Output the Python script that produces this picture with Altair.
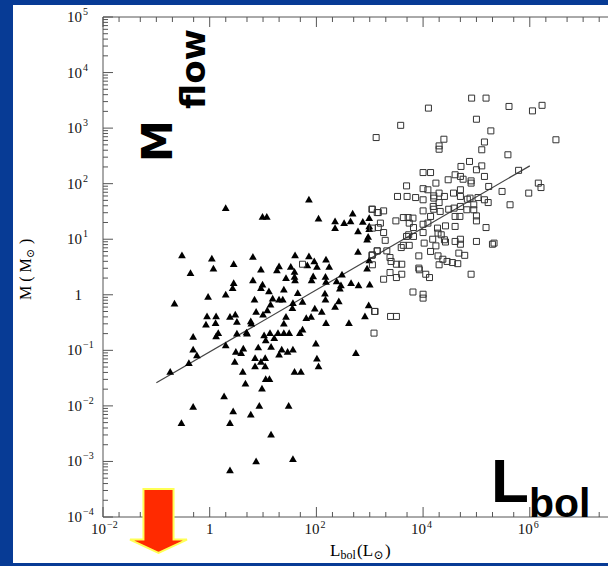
import altair as alt
import pandas as pd

# ---------------- data (log10 values) ----------------
tri_logL = [0.30, 1.86, 0.99, 1.07, 2.04, 2.35, 2.35, 2.52, 2.64, 2.68, 2.87, 2.78, 2.99, 2.99, 2.99, 2.97, 2.95,
            -0.52, 0.04, -0.36, 0.07, 0.45, 0.81, 0.96, 1.60, 1.86, 1.30, 1.26, 1.52, 1.83, 1.96, 2.18, 2.24, 2.01,
            1.59, 1.59, 1.60, 1.43, 1.94, 1.91, 2.17, 2.18, 2.48, 2.38, 2.46, 2.44, 2.65, 2.79, 3.00, 2.78, 2.99, 2.95,
            0.45, 0.43, 0.81, 0.99, 0.96, 1.11, 1.39, 1.65, 0.30, -0.03, -0.66, 0.84, 1.18, 1.30, 1.37, 1.56, 1.55,
            1.74, 2.17, 2.16, 2.42, 2.35, 1.97, 2.10, 1.08, 1.00, 0.87, 1.14, 2.98, 2.91, -0.05, 0.12, 0.38, 0.48,
            1.43, 1.81, 1.90, -0.07, 0.11, 0.51, 0.77, 0.78, 1.39, 2.18, 2.61, -0.31, 0.16, 0.12, 0.51, 0.69, 0.70,
            0.30, -0.31, -0.39, -0.24, -0.74, 0.49, 0.63, 0.59, 0.47, 0.91, 1.02, 1.13, 1.05, 1.21, 1.28, 1.39, 1.49,
            1.15, 1.35, 1.30, 1.46, 1.56, 1.69, 1.74, 1.99, 0.85, 0.96, 1.04, 0.85, 1.04, 0.62, 0.67, 1.05, 1.12,
            0.98, 1.59, 1.71, 2.01, 2.04, 2.74, 0.27, -0.31, -0.53, 0.44, 0.38, 0.77, 0.93, 1.48, 1.15, 0.87, 1.56, 0.38]
tri_logM = [1.57, 1.72, 1.41, 1.41, 1.38, 1.33, 1.21, 1.30, 1.33, 1.47, 1.32, 1.15, 1.39, 1.24, 1.19, 1.05, 1.00,
            0.72, 0.66, 0.40, 0.48, 0.56, 0.69, 0.46, 0.72, 0.70, 0.52, 0.45, 0.51, 0.54, 0.61, 0.64, 0.51, 0.51,
            0.42, 0.33, 0.27, 0.31, 0.34, 0.27, 0.33, 0.24, 0.37, 0.25, 0.18, 0.12, 0.22, 0.18, 0.19, 0.78, 0.63, 0.48,
            0.22, 0.13, 0.27, 0.19, 0.13, 0.07, 0.10, 0.04, 0.01, -0.03, -0.15, -0.08, -0.06, -0.08, -0.08, -0.14, -0.23,
            -0.12, -0.08, 0.03, -0.11, -0.21, -0.24, -0.30, -0.27, -0.35, -0.30, -0.17, -0.18, -0.38, -0.38, -0.38, -0.39, -0.35,
            -0.39, -0.41, -0.39, -0.53, -0.50, -0.48, -0.47, -0.51, -0.51, -0.50, -0.50, -0.75, -0.68, -0.74, -0.69, -0.67, -0.69,
            -0.90, -0.98, -1.22, -1.08, -1.38, -1.02, -0.96, -1.04, -1.20, -0.94, -0.72, -0.68, -0.81, -0.77, -0.68, -0.68, -0.68,
            -0.93, -0.98, -1.07, -1.02, -0.98, -0.68, -0.62, -0.87, -1.13, -1.20, -1.13, -1.28, -1.28, -1.38, -1.59, -1.51, -1.51,
            -1.68, -1.38, -1.38, -1.14, -1.28, -1.04, -1.82, -2.01, -2.30, -2.09, -2.30, -2.15, -1.99, -1.99, -2.51, -2.99, -2.95, -3.15]

sq_logL = [4.91, 5.18, 4.10, 5.61, 6.05, 6.23, 3.58, 5.00, 3.12, 5.27, 4.39, 4.30, 4.30, 5.15, 5.10, 6.49, 5.59,
           4.87, 4.71, 5.10, 5.00, 4.00, 4.14, 5.15, 4.47, 4.60, 4.70, 4.75, 4.90, 4.90, 4.24, 3.69, 4.00, 4.09,
           5.79, 5.23, 4.70, 5.48, 6.16, 6.21, 5.98, 3.52, 3.70, 3.86, 4.00, 4.20, 4.30, 4.40, 4.20, 4.57, 4.70,
           4.83, 4.88, 5.03, 5.15, 5.22, 4.95, 5.63, 3.04, 3.16, 3.26, 4.00, 4.19, 4.20, 4.30, 4.48, 4.58, 4.70,
           4.82, 4.95, 5.00, 5.00, 3.63, 3.72, 3.81, 3.49, 4.14, 4.32, 4.60, 4.69, 3.20, 3.74, 4.00, 4.09, 4.27,
           4.42, 4.60, 5.18, 3.16, 3.26, 3.82, 3.73, 3.69, 3.82, 3.29, 4.00, 4.28, 4.34, 4.40, 4.42, 4.18, 3.63,
           3.59, 3.74, 4.02, 4.24, 4.60, 4.70, 4.70, 5.00, 5.30, 5.33, 3.14, 3.32, 3.92, 4.14, 4.28, 4.37, 4.45,
           4.55, 4.65, 4.67, 4.78, 3.04, 3.38, 3.40, 3.50, 3.60, 4.30, 4.90, 3.92, 3.93, 4.05, 4.12, 3.26, 3.50,
           3.38, 3.60, 3.81, 4.00, 4.00, 3.09, 3.39, 3.50, 1.74, 3.05, 3.14, 3.05, 3.05, 3.14, 3.05, 3.10, 3.08]
sq_logM = [3.54, 3.54, 3.36, 3.39, 3.31, 3.41, 3.05, 3.16, 2.83, 2.95, 2.80, 2.68, 2.62, 2.75, 2.61, 2.79, 2.52,
           2.40, 2.31, 2.32, 2.25, 2.20, 2.20, 2.13, 2.07, 2.16, 2.13, 2.08, 2.05, 2.01, 2.01, 1.96, 1.91, 1.89,
           2.24, 1.95, 1.89, 1.86, 2.01, 1.93, 1.83, 1.77, 1.77, 1.75, 1.71, 1.78, 1.83, 1.77, 1.74, 1.83, 1.77,
           1.72, 1.74, 1.75, 1.71, 1.66, 1.62, 1.62, 1.54, 1.48, 1.51, 1.51, 1.59, 1.54, 1.66, 1.54, 1.56, 1.59,
           1.53, 1.53, 1.42, 1.33, 1.39, 1.39, 1.38, 1.33, 1.41, 1.50, 1.41, 1.41, 1.29, 1.29, 1.27, 1.29, 1.20,
           1.24, 1.23, 1.21, 1.21, 1.12, 1.21, 1.08, 1.05, 1.05, 0.98, 1.12, 1.11, 1.08, 0.99, 0.95, 1.00, 0.89,
           0.85, 0.89, 0.93, 0.88, 0.96, 1.00, 0.91, 0.96, 0.91, 0.93, 0.79, 0.79, 0.70, 0.78, 0.70, 0.64, 0.60,
           0.58, 0.56, 0.75, 0.71, 0.71, 0.67, 0.60, 0.55, 0.55, 0.54, 0.37, 0.48, 0.45, 0.37, 0.31, 0.28, 0.31,
           0.40, 0.37, 0.05, 0.01, -0.06, -0.30, -0.39, -0.39, 0.55, 1.54, 1.48, 1.20, 0.72, 0.79, 0.54, -0.30, -0.69]

fit_L = [0.1, 1.0e6]
fit_M = [0.026, 209.0]

# tick positions and tick labels
x_major = [1e-2, 1, 1e2, 1e4, 1e6]
x_lab_base = ["10", "1", "10", "10", "10"]
x_lab_exp = ["\u22122", "", "2", "4", "6"]
x_minor = [2e-2, 5e-2, 1e-1, 2e-1, 5e-1, 2, 5, 10, 20, 50, 2e2, 5e2, 1e3, 2e3, 5e3,
           2e4, 5e4, 1e5, 2e5, 5e5, 2e6, 5e6, 1e7, 2e7]
y_major = [1e-4, 1e-3, 1e-2, 1e-1, 1, 1e1, 1e2, 1e3, 1e4, 1e5]
y_lab_base = ["10", "10", "10", "10", "1", "10", "10", "10", "10", "10"]
y_lab_exp = ["\u22124", "\u22123", "\u22122", "\u22121", "", "1", "2", "3", "4", "5"]
y_minor = [k * 10.0 ** e for e in range(-4, 5) for k in range(2, 10)]

# ---------------- layout ----------------
W, H = 505, 500
XMAX = 10 ** 7.466
xscale = alt.Scale(type="log", domain=[1e-2, XMAX], nice=False)
yscale = alt.Scale(type="log", domain=[1e-4, 1e5], nice=False)

SERIF = "Liberation Serif"
AX = "#555555"
BLUE = "#073b95"
one = pd.DataFrame({"k": [0]})


def strip(x0, x1, y0, y1):
    return alt.Chart(one).mark_rect(color=BLUE).encode(
        x=alt.value(x0), x2=alt.value(x1), y=alt.value(y0), y2=alt.value(y1))


frame = [strip(-103, -90, -17, H + 49),      # left band
         strip(-103, W, -17, -12),           # top band
         strip(-103, W, H + 46, H + 49)]     # bottom band

tri = alt.Chart(pd.DataFrame({"lL": tri_logL, "lM": tri_logM})).transform_calculate(
    L="pow(10, datum.lL)", M="pow(10, datum.lM)"
).mark_point(shape="triangle-up", filled=True, color="black", size=60, opacity=1).encode(
    x=alt.X("L:Q", scale=xscale, axis=None),
    y=alt.Y("M:Q", scale=yscale, axis=None))

sq = alt.Chart(pd.DataFrame({"lL": sq_logL, "lM": sq_logM})).transform_calculate(
    L="pow(10, datum.lL)", M="pow(10, datum.lM)"
).mark_point(shape="square", filled=False, color="#333333", size=36, strokeWidth=1, opacity=1).encode(
    x=alt.X("L:Q", scale=xscale, axis=None),
    y=alt.Y("M:Q", scale=yscale, axis=None))

fit = alt.Chart(pd.DataFrame({"L": fit_L, "M": fit_M})).mark_line(color="#444444", strokeWidth=1.2).encode(
    x=alt.X("L:Q", scale=xscale, axis=None),
    y=alt.Y("M:Q", scale=yscale, axis=None))


def xticks(vals, y0, y1):
    return alt.Chart(pd.DataFrame({"v": vals})).mark_rule(color=AX, strokeWidth=1).encode(
        x=alt.X("v:Q", scale=xscale, axis=None), y=alt.value(y0), y2=alt.value(y1))


def yticks(vals, length):
    return alt.Chart(pd.DataFrame({"v": vals})).mark_rule(color=AX, strokeWidth=1).encode(
        y=alt.Y("v:Q", scale=yscale, axis=None), x=alt.value(0), x2=alt.value(length))


def line(x0, x1, y0, y1):
    return alt.Chart(one).mark_rule(color=AX, strokeWidth=1).encode(
        x=alt.value(x0), x2=alt.value(x1), y=alt.value(y0), y2=alt.value(y1))


box = [line(0, W, 0, 0), line(0, W, H, H), line(0, 0, 0, H)]

ticks = [xticks(x_major, H, H - 10), xticks(x_minor, H, H - 5),
         xticks(x_major, 0, 10), xticks(x_minor, 0, 5),
         yticks(y_major, 10), yticks(y_minor, 5)]

# tick labels (base "10" plus a raised exponent)
xl = pd.DataFrame({"v": x_major, "b": x_lab_base, "e": x_lab_exp})
yl = pd.DataFrame({"v": y_major, "b": y_lab_base, "e": y_lab_exp})

x_base = alt.Chart(xl).transform_filter("datum.e != ''").mark_text(
    font=SERIF, fontSize=15, color="#111", align="right", baseline="alphabetic", dx=3
).encode(x=alt.X("v:Q", scale=xscale, axis=None), y=alt.value(H + 17), text="b:N")
x_one = alt.Chart(xl).transform_filter("datum.e == ''").mark_text(
    font=SERIF, fontSize=15, color="#111", align="center", baseline="alphabetic"
).encode(x=alt.X("v:Q", scale=xscale, axis=None), y=alt.value(H + 17), text="b:N")
x_exp = alt.Chart(xl).transform_filter("datum.e != ''").mark_text(
    font=SERIF, fontSize=10, color="#111", align="left", baseline="alphabetic", dx=4
).encode(x=alt.X("v:Q", scale=xscale, axis=None), y=alt.value(H + 11), text="e:N")

y_base = alt.Chart(yl).mark_text(
    font=SERIF, fontSize=15, color="#111", align="right", baseline="alphabetic", dy=5
).encode(y=alt.Y("v:Q", scale=yscale, axis=None), x=alt.value(-21), text="b:N")
y_exp = alt.Chart(yl).mark_text(
    font=SERIF, fontSize=10, color="#111", align="left", baseline="alphabetic", dx=1, dy=-2
).encode(y=alt.Y("v:Q", scale=yscale, axis=None), x=alt.value(-21), text="e:N")

labels = [x_base, x_one, x_exp, y_base, y_exp]


def txt(s, x, y, size, font, angle=0, weight="normal", baseline="alphabetic", align="left"):
    kw = dict(text=s, fontSize=size, font=font, fontWeight=weight, color="black",
              align=align, baseline=baseline)
    if angle:
        kw["angle"] = angle
    return alt.Chart(one).mark_text(**kw).encode(x=alt.value(x), y=alt.value(y))


SANS = "DejaVu Sans"
texts = [
    # x axis title  L_bol(L_sun)
    txt("L", 227, 539, 17, SERIF),
    txt("bol", 237.5, 542, 12, SERIF),
    txt("(L", 254, 539, 17, SERIF),
    txt("\u2299", 270.5, 542, 12, "DejaVu Serif"),
    txt(")", 282, 539, 17, SERIF),
    # y axis title  M ( M_sun )
    txt("M ( M", -72, 283, 16, SERIF, angle=270),
    txt("\u2299", -69, 241, 11, "DejaVu Serif", angle=270),
    txt(")", -72, 227, 16, SERIF, angle=270),
    # big annotations
    txt("M", 69, 145, 42, SANS, angle=270, weight="bold"),
    txt("flow", 102, 92, 34, SANS, angle=270, weight="bold"),
    txt("L", 388, 485, 62, "Liberation Sans", weight="bold"),
    txt("bol", 426, 500, 41, "Liberation Sans", weight="bold"),
]

arrow = alt.Chart(one).mark_point(
    shape="M -0.47 -1 L 0.47 -1 L 0.47 0.58 L 0.89 0.58 L 0 1 L -0.89 0.58 L -0.47 0.58 Z",
    size=4096, filled=True, fill="#ff2a00", stroke="#ffff55", strokeWidth=2, opacity=1
).encode(x=alt.value(55.5), y=alt.value(504))

chart = alt.layer(*frame, fit, tri, sq, *ticks, *box, *labels, *texts, arrow).properties(
    width=W, height=H,
    autosize=alt.AutoSizeParams(type="none"),
    padding={"left": 103, "top": 17, "right": 0, "bottom": 49},
    background="white",
).configure_view(strokeWidth=0)

chart.save("out.html", embed_options={"renderer": "svg", "actions": False})
